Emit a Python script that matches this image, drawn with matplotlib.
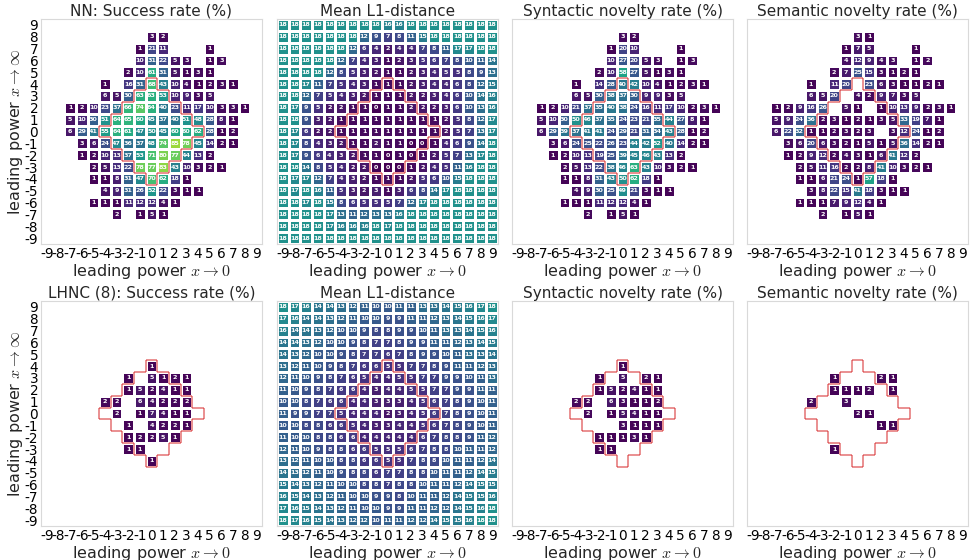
import numpy as np
import matplotlib.pyplot as plt
from matplotlib.collections import LineCollection

plt.rcParams['mathtext.fontset'] = 'cm'

powers = np.arange(-9, 10)
row_powers = powers[::-1]  # grid rows run from +9 (top) down to -9

# half-width of the training region (red outline) for each leading power x->inf
region_halfwidth = {4: 0, 3: 1, 2: 2, 1: 3, 0: 4, -1: 3, -2: 2, -3: 1, -4: 0}

# each grid: 19 rows (x->inf = 9 .. -9), 19 columns (x->0 = -9 .. 9), '.' = no data
nn_success = [
    '',
    '. . . . . . . . . 3 2 . . . . . . . .',
    '. . . . . . . . 1 21 11 . . . 1 . . . .',
    '. . . . . . . . 10 31 22 5 3 . 1 3 . . .',
    '. . . . . . . 2 10 61 31 5 1 3 1 . . . .',
    '. . . . . 1 . 16 31 68 43 10 4 1 2 3 1 . .',
    '. . . . . 6 5 30 63 63 53 10 9 3 5 . . . .',
    '. . 1 2 10 23 37 66 74 64 40 23 11 17 10 3 3 1 .',
    '. . 5 10 30 51 64 65 60 45 37 40 51 48 28 8 1 . .',
    '. . 6 29 41 55 64 61 47 50 45 60 60 62 28 1 2 . .',
    '. . . 3 6 24 47 36 37 48 74 85 78 45 14 2 1 . .',
    '. . . 1 2 10 13 37 53 71 80 77 44 13 2 . . . .',
    '. . . . 2 5 13 22 78 77 83 43 10 3 2 1 . . .',
    '. . . . 1 1 8 31 47 70 62 18 1 . . . . . .',
    '. . . . . 4 9 31 26 52 22 3 1 1 . . . . .',
    '. . . . 1 1 1 11 12 12 4 1 . . . . . . .',
    '. . . . . . 2 . 1 5 1 . . . . . . . .',
    '',
    '',
]

nn_l1 = [
    '18 18 18 18 18 18 18 18 18 16 16 18 18 18 18 18 18 18 18',
    '18 18 18 18 18 18 18 12 9 7 8 11 15 18 18 18 18 18 18',
    '18 18 18 18 18 18 12 6 4 2 4 4 7 8 11 17 17 18 18',
    '18 18 18 18 18 12 7 4 3 1 2 3 5 6 7 8 10 11 14',
    '18 18 18 18 12 8 5 3 2 1 1 2 3 4 5 5 8 9 13',
    '18 18 17 11 7 5 4 3 1 1 1 2 3 4 4 6 8 12 15',
    '18 18 12 7 5 4 3 2 1 1 1 2 2 3 4 6 10 14 16',
    '18 17 9 5 2 2 1 1 0 1 1 2 2 2 3 6 10 13 16',
    '18 18 9 3 2 1 1 1 1 1 1 1 1 1 2 5 8 12 17',
    '18 17 6 2 2 1 1 1 1 1 1 1 1 1 2 5 7 13 17',
    '18 17 8 4 3 2 1 1 2 1 1 0 0 1 4 6 9 14 18',
    '18 17 9 6 4 3 2 1 1 0 1 0 1 2 5 7 13 17 18',
    '18 18 14 8 5 4 2 2 0 0 0 1 2 4 5 11 16 18 18',
    '18 17 17 12 7 4 3 2 1 1 1 2 5 6 10 15 18 18 18',
    '18 17 18 16 11 5 3 2 3 1 3 6 8 14 17 18 18 18 18',
    '18 18 17 18 15 8 6 5 5 5 7 12 17 18 18 18 18 18 18',
    '18 18 18 18 17 13 11 12 13 13 16 18 18 18 18 18 18 18 18',
    '18 18 18 18 17 16 16 16 18 17 18 18 18 18 18 18 18 18 18',
    '18 18 18 18 18 18 18 18 18 18 18 18 18 18 18 18 18 18 18',
]

nn_syntactic = [
    '',
    '. . . . . . . . . 3 2 . . . . . . . .',
    '. . . . . . . . 1 20 10 . . . 1 . . . .',
    '. . . . . . . . 10 27 20 5 3 . 1 3 . . .',
    '. . . . . . . 2 10 58 27 5 1 3 1 . . . .',
    '. . . . . 1 . 14 28 40 42 10 4 1 2 3 1 . .',
    '. . . . . 6 5 30 38 37 30 9 9 3 5 . . . .',
    '. . 1 2 10 21 37 35 40 38 24 16 11 17 10 2 3 1 .',
    '. . 5 10 30 50 46 37 35 24 23 21 35 44 27 8 1 . .',
    '. . 6 29 39 37 41 41 24 29 21 31 34 43 28 1 2 . .',
    '. . . 3 6 24 25 22 26 23 44 42 52 40 14 2 1 . .',
    '. . . 1 2 10 13 19 25 39 45 46 43 13 2 . . . .',
    '. . . . 2 5 13 22 38 46 63 43 10 3 2 1 . . .',
    '. . . . 1 1 8 31 43 50 62 18 1 . . . . . .',
    '. . . . . 4 9 30 25 49 21 3 1 1 . . . . .',
    '. . . . 1 1 1 11 12 12 4 1 . . . . . . .',
    '. . . . . . 2 . 1 5 1 . . . . . . . .',
    '',
    '',
]

nn_semantic = [
    '',
    '. . . . . . . . . 3 1 . . . . . . . .',
    '. . . . . . . . 1 7 5 . . . 1 . . . .',
    '. . . . . . . . 4 12 9 4 3 . 1 2 . . .',
    '. . . . . . . 2 7 25 15 3 1 2 1 . . . .',
    '. . . . . 1 . 11 20 . 23 6 3 1 1 2 1 . .',
    '. . . . . 6 5 20 . 4 2 9 7 3 5 . . . .',
    '. . 1 2 9 16 26 . 5 1 . 1 10 13 9 2 3 1 .',
    '. . 5 9 24 36 2 3 1 2 1 3 5 33 19 7 1 . .',
    '. . 6 22 32 1 1 2 3 2 3 . 3 12 24 1 2 . .',
    '. . . 3 6 20 6 3 2 1 5 1 5 36 14 2 1 . .',
    '. . . 1 2 9 12 2 4 3 1 6 41 12 2 . . . .',
    '. . . . 2 5 11 16 2 2 8 41 10 3 2 1 . . .',
    '. . . . 1 1 6 21 24 1 57 18 1 . . . . . .',
    '. . . . . 3 8 22 15 41 18 3 1 1 . . . . .',
    '. . . . 1 1 1 7 9 12 4 1 . . . . . . .',
    '. . . . . . 2 . 1 5 1 . . . . . . . .',
    '',
    '',
]

lhnc_success = [
    '', '', '', '', '',
    '. . . . . . . . . 1 . . . . . . . . .',
    '. . . . . . . 1 . 5 1 2 1 . . . . . .',
    '. . . . . . . 1 5 2 4 1 1 . . . . . .',
    '. . . . . 2 2 . 6 4 2 2 2 . . . . . .',
    '. . . . . . 2 . 1 7 4 1 1 . . . . . .',
    '. . . . . . . 1 . 4 2 2 1 . . . . . .',
    '. . . . . . . 1 2 2 5 1 . . . . . . .',
    '. . . . . . . 1 1 . . . . . . . . . .',
    '. . . . . . . . . 1 . . . . . . . . .',
    '', '', '', '', '',
]

lhnc_l1 = [
    '18 17 16 14 14 13 12 11 10 10 11 11 13 13 14 15 16 17 18',
    '17 16 14 14 13 12 11 10 10 9 9 11 11 12 13 14 15 16 17',
    '16 14 14 13 12 10 10 9 8 8 9 9 10 11 13 13 14 15 16',
    '14 14 13 12 10 10 9 8 7 7 8 9 9 11 11 12 13 14 15',
    '14 13 12 10 10 9 8 7 7 6 7 8 9 9 10 11 13 13 14',
    '13 12 11 10 9 8 7 6 6 5 5 7 7 8 9 11 11 12 13',
    '12 11 10 9 8 7 6 5 4 4 5 5 7 7 9 9 10 11 13',
    '11 10 9 8 7 6 6 4 3 4 4 5 5 7 7 9 9 11 11',
    '10 10 8 7 6 6 4 4 3 3 3 4 5 6 7 8 9 10 11',
    '11 9 9 7 7 5 4 4 4 2 3 4 5 6 7 8 9 10 11',
    '10 10 8 8 6 6 5 4 3 3 4 4 5 6 7 8 9 10 11',
    '11 10 10 8 8 6 6 4 4 4 4 4 6 7 8 8 9 11 12',
    '12 11 10 9 8 8 6 6 5 5 5 6 7 8 8 10 11 11 12',
    '13 12 11 10 10 8 8 6 6 5 5 7 8 8 10 11 11 12 14',
    '14 13 12 11 10 9 8 8 6 7 7 8 8 10 11 11 12 14 15',
    '15 14 13 12 11 10 10 8 8 7 8 8 10 11 11 12 14 15 15',
    '16 15 14 13 12 11 10 10 9 9 8 10 11 11 12 14 15 15 16',
    '17 16 15 14 13 12 11 10 10 9 9 11 11 12 12 14 15 16 18',
    '18 17 16 15 14 13 12 12 10 11 11 12 12 14 15 15 16 18 18',
]

lhnc_syntactic = [
    '', '', '', '', '',
    '. . . . . . . . . 1 . . . . . . . . .',
    '. . . . . . . 1 . 5 . 2 1 . . . . . .',
    '. . . . . . . 1 5 2 4 1 1 . . . . . .',
    '. . . . . 2 2 . 6 3 1 1 2 . . . . . .',
    '. . . . . . 2 . 1 5 4 1 1 . . . . . .',
    '. . . . . . . . . 3 1 1 1 . . . . . .',
    '. . . . . . . 1 1 1 3 1 . . . . . . .',
    '. . . . . . . 1 1 . . . . . . . . . .',
    '', '', '', '', '', '',
]

lhnc_semantic = [
    '', '', '', '', '', '',
    '. . . . . . . 1 . . . 2 1 . . . . . .',
    '. . . . . . . 1 1 1 2 . 1 . . . . . .',
    '. . . . . 2 . . 3 . . . . . . . . . .',
    '. . . . . . . . . 2 1 . . . . . . . .',
    '. . . . . . . . . . . 1 1 . . . . . .',
    '',
    '. . . . . . . 1 . . . . . . . . . .',
    '', '', '', '', '', '',
]

rows = [
    [('NN: Success rate (%)', nn_success, 100),
     ('Mean L1-distance', nn_l1, 36),
     ('Syntactic novelty rate (%)', nn_syntactic, 100),
     ('Semantic novelty rate (%)', nn_semantic, 100)],
    [('LHNC (8): Success rate (%)', lhnc_success, 100),
     ('Mean L1-distance', lhnc_l1, 36),
     ('Syntactic novelty rate (%)', lhnc_syntactic, 100),
     ('Semantic novelty rate (%)', lhnc_semantic, 100)],
]


def parse(lines):
    out = np.full((19, 19), np.nan)
    for i, line in enumerate(lines):
        for j, tok in enumerate(line.split()):
            if tok != '.':
                out[i, j] = float(tok)
    return out


def region_segments():
    cells = {(x, y) for y, w in region_halfwidth.items() for x in range(-w, w + 1)}
    segs = []
    for x, y in cells:
        if (x - 1, y) not in cells:
            segs.append([(x - .5, y - .5), (x - .5, y + .5)])
        if (x + 1, y) not in cells:
            segs.append([(x + .5, y - .5), (x + .5, y + .5)])
        if (x, y - 1) not in cells:
            segs.append([(x - .5, y - .5), (x + .5, y - .5)])
        if (x, y + 1) not in cells:
            segs.append([(x - .5, y + .5), (x + .5, y + .5)])
    return segs


def draw_panel(ax, title, lines, vmax):
    grid = parse(lines)
    edges = np.arange(-9.5, 10)
    ax.pcolormesh(edges, edges, np.ma.masked_invalid(grid[::-1]),
                  cmap='viridis', vmin=0, vmax=vmax,
                  edgecolors='white', linewidth=0.9)
    for i, y in enumerate(row_powers):
        for j, x in enumerate(powers):
            v = grid[i, j]
            if not np.isnan(v):
                ax.text(x, y, '%d' % v, ha='center', va='center',
                        fontsize=4.6, color='white', fontweight='bold')

    ax.add_collection(LineCollection(region_segments(), colors='tab:red',
                                     alpha=0.65, linewidths=1.1))

    ax.set_xlim(-9.5, 9.5)
    ax.set_ylim(-9.5, 9.5)
    ax.set_xticks(powers)
    ax.set_xticklabels([str(p) for p in powers])
    ax.set_yticks(powers)
    ax.set_yticklabels([str(p) for p in powers])
    ax.tick_params(length=0, labelsize=9.8, pad=2)
    for s in ax.spines.values():
        s.set_color('#d9d9d9')
    ax.set_title(title, fontsize=11, pad=2, color='#262626')
    ax.set_xlabel(r'leading power $x \to 0$', fontsize=11.5, labelpad=1,
                  color='#262626')


fig = plt.figure(figsize=(9.72, 5.6), dpi=100)
W, H = 972, 560
lefts = [41, 277, 512, 747]
tops = [19, 301]
size = 221

for r, panels in enumerate(rows):
    for c, (title, lines, vmax) in enumerate(panels):
        ax = fig.add_axes([lefts[c] / W, 1 - (tops[r] + 225) / H,
                           size / W, 225 / H])
        draw_panel(ax, title, lines, vmax)
        if c == 0:
            ax.set_ylabel(r'leading power $x \to \infty$', fontsize=11.5,
                          labelpad=0, color='#262626')
        else:
            ax.set_yticklabels([])

fig.savefig('out.png', dpi=100)
